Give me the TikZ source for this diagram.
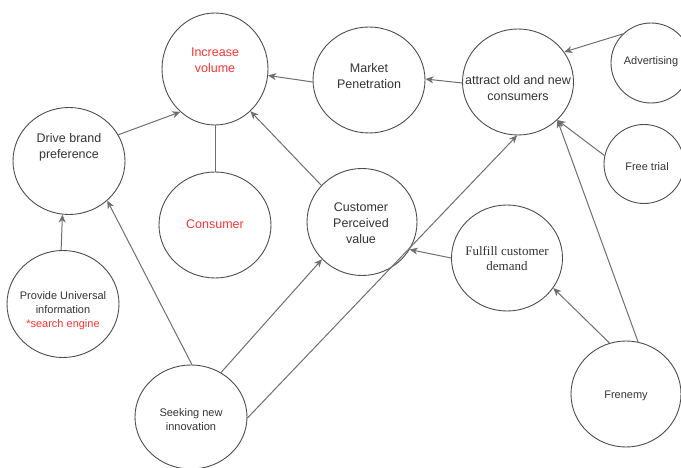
\documentclass[tikz,border=0pt]{standalone}
\usepackage{fontspec}
\setmainfont{Liberation Sans}
\newfontfamily\serifface{Liberation Serif}
\usetikzlibrary{shapes.geometric,arrows.meta}
\definecolor{circline}{HTML}{4D4D4D}
\definecolor{edgeline}{HTML}{6E6E6E}
\definecolor{txt}{HTML}{333333}
\definecolor{redtxt}{HTML}{FF3333}
\tikzset{
  bubble/.style={ellipse, draw=circline, line width=0.9bp, inner sep=0pt},
  lbl/.style={align=center, text=txt, inner sep=0pt, yshift=-1.5bp, font=\fontsize{12.5bp}{16bp}\selectfont},
  lblsmall/.style={align=center, text=txt, inner sep=0pt, yshift=-1.5bp, font=\fontsize{11bp}{14bp}\selectfont},
  conn/.style={draw=edgeline, line width=1bp},
  arr/.style={conn, -{Stealth[length=8bp,width=7bp,inset=2.5bp]}}
}
\begin{document}
\begin{tikzpicture}[x=1bp,y=-1bp]
\useasboundingbox (0,0) rectangle (681,468);
% ellipses
\node[bubble, minimum width=106bp, minimum height=112bp] (iv) at (215,69) {};
\node[bubble, minimum width=112bp, minimum height=107bp] (db) at (69,161) {};
\node[bubble, minimum width=112bp, minimum height=106bp] (con) at (215,225) {};
\node[bubble, minimum width=112bp, minimum height=106bp] (mp) at (369,80) {};
\node[bubble, minimum width=111bp, minimum height=106bp] (ac) at (518,82) {};
\node[bubble, minimum width=80bp, minimum height=80bp] (adv) at (651,63) {};
\node[bubble, minimum width=80bp, minimum height=79bp] (ft) at (644,164) {};
\node[bubble, minimum width=110bp, minimum height=107bp] (cpv) at (362,222) {};
\node[bubble, minimum width=111bp, minimum height=106bp] (ff) at (507,258) {};
\node[bubble, minimum width=110bp, minimum height=106bp] (fr) at (626,394) {};
\node[bubble, minimum width=112bp, minimum height=107bp] (pu) at (63,304) {};
\node[bubble, minimum width=112bp, minimum height=104bp] (sk) at (191,417) {};
% labels
\node[lbl, text=redtxt] (tiv) at (215,59) {Increase\\volume};
\node[lbl] (tdb) at (69,146) {Drive brand\\preference};
\node[lbl, text=redtxt] (tcon) at (215,223) {Consumer};
\node[lbl] (tmp) at (369,75) {Market\\Penetration};
\node[lbl] (tac) at (518,87) {attract old and new\\consumers};
\node[lblsmall] (tadv) at (651,60) {Advertising};
\node[lblsmall] (tft) at (647,165) {Free trial};
\node[lbl] (tcpv) at (361,222) {Customer\\Perceived\\value};
\node[align=center, text=txt, inner sep=0pt, yshift=-1bp, font=\serifface\fontsize{13bp}{15bp}\selectfont] (tff) at (507,257) {Fulfill customer\\demand};
\node[lblsmall] (tfr) at (626,394) {Frenemy};
\node[lblsmall] (tpu) at (63,309) {Provide Universal\\information\\\textcolor{redtxt}{*search engine}};
\node[lblsmall] (tsk) at (191,418) {Seeking new\\innovation};
% connectors
\draw[arr] (db.28) -- (iv.-129);
\draw[conn] (con.north) -- (iv.south);
\draw[arr] (mp.182) -- (iv.-7);
\draw[arr] (ac.181) -- (mp.1);
\draw[arr] (adv.134) -- (ac.33);
\draw[arr] (ft.168) -- (ac.-44);
\draw[arr] (fr.77) -- (ac.-44);
\draw[arr] (cpv.138) -- (iv.-50);
\draw[arr] (pu.92) -- (db.-97);
\draw[arr] (sk.89) -- (db.-46);
\draw[arr] (sk.56) -- (cpv.-137);
\draw[arr] (sk.-1) -- (ac.-91);
\draw[arr] (ff.180) -- (cpv.-30);
\draw[arr] (fr.108) -- (ff.-33);
\end{tikzpicture}
\end{document}
